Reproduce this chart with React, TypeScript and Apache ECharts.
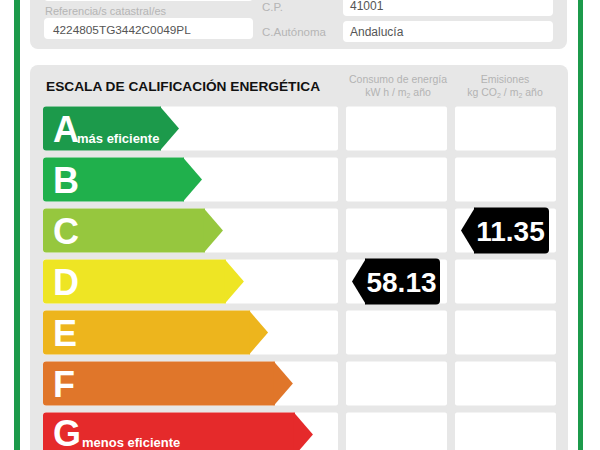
import React, { useEffect, useRef } from "react";
import * as echarts from "echarts";

// ---- data ----
const ratings = ["A", "B", "C", "D", "E", "F", "G"];
const ratingColors = ["#1c9a4b", "#20b04c", "#96c73e", "#eee524", "#edb51d", "#e0762a", "#e52a2b"];
const arrowLengths = [46.1, 53.9, 61.0, 68.1, 76.3, 84.7, 91.5];
const ratingNotes = ["más eficiente", "", "", "", "", "", "menos eficiente"];

const consumptionRating = "D";
const consumptionValue = 58.13;
const emissionsRating = "C";
const emissionsValue = 11.35;

const scaleTitle = "ESCALA DE CALIFICACIÓN ENERGÉTICA";
const consumptionHeader = ["Consumo de energía", "kW h / m{sub|2} año"];
const emissionsHeader = ["Emisiones", "kg CO{sub|2} / m{sub|2} año"];

const cadastralLabel = "Referencia/s catastral/es";
const cadastralRef = "4224805TG3442C0049PL";
const postalLabel = "C.P.";
const postalCode = "41001";
const regionLabel = "C.Autónoma";
const regionName = "Andalucía";

const FONT = "Liberation Sans, Arial, Helvetica, sans-serif";

export default function App() {
  const ref = useRef<HTMLDivElement>(null);

  useEffect(() => {
    if (!ref.current) return;
    const chart = echarts.init(ref.current, null, { renderer: "svg" });

    // row centres: first at 128.5, last at 434.5 (category points, no boundary gap)
    const gridTop = 128.5;
    const gridHeight = 306;

    const rowHeight = (api: any) => api.size([0, 1])[1] - 7;

    const cellRender = (params: any, api: any) => {
      const cat = api.value(1);
      const c = api.coord([0, cat]);
      const h = rowHeight(api);
      return {
        type: "rect",
        shape: { x: params.coordSys.x, y: c[1] - h / 2, width: params.coordSys.width, height: h, r: 2 },
        style: { fill: "#ffffff" },
      };
    };

    const arrowRender = (params: any, api: any) => {
      const i = params.dataIndex;
      const cat = api.value(1);
      const len = api.value(0);
      const start = api.coord([0, cat]);
      const tip = api.coord([len, cat]);
      const h = rowHeight(api);
      const top = start[1] - h / 2;
      const depth = 19;
      const isLast = i === ratings.length - 1;
      const children: any[] = [
        {
          type: "rect",
          shape: { x: start[0], y: top, width: tip[0] - depth - start[0] + 1, height: h, r: [3, 0, 0, 3] },
          style: { fill: ratingColors[i] },
        },
        {
          type: "polygon",
          shape: {
            points: [
              [tip[0] - depth, top],
              [tip[0], start[1]],
              [tip[0] - depth, top + h],
            ],
          },
          style: { fill: ratingColors[i] },
        },
        {
          type: "text",
          style: {
            text: ratings[i],
            x: start[0] + 10,
            y: start[1] + (isLast ? -1 : 1),
            fill: "#ffffff",
            fontSize: 36,
            lineHeight: 28,
            fontWeight: "bold",
            fontFamily: FONT,
            align: "left",
            verticalAlign: "middle",
          },
        },
      ];
      if (ratingNotes[i]) {
        children.push({
          type: "text",
          style: {
            text: ratingNotes[i],
            x: start[0] + (isLast ? 39 : 34),
            y: start[1] + (isLast ? 8 : 10),
            fill: "#ffffff",
            fontSize: 13,
            fontWeight: "bold",
            fontFamily: FONT,
            align: "left",
            verticalAlign: "middle",
          },
        });
      }
      return { type: "group", children };
    };

    const badgeRender = (params: any, api: any) => {
      const cat = api.value(1);
      const val = api.value(2);
      const c = api.coord([0, cat]);
      const left = params.coordSys.x;
      const w = params.coordSys.width;
      const h = rowHeight(api) + 2;
      const top = c[1] - h / 2;
      const tipX = left + 6;
      const bodyX = left + 19;
      const right = left + w - 7;
      return {
        type: "group",
        children: [
          {
            type: "rect",
            shape: { x: bodyX, y: top, width: right - bodyX, height: h, r: [0, 4, 4, 0] },
            style: { fill: "#000000" },
          },
          {
            type: "polygon",
            shape: { points: [[tipX, c[1]], [bodyX + 1, top], [bodyX + 1, top + h]] },
            style: { fill: "#000000" },
          },
          {
            type: "text",
            style: {
              text: val.toFixed(2),
              x: (bodyX + right) / 2 - 1,
              y: c[1] + 1,
              fill: "#ffffff",
              fontSize: 28,
              fontWeight: "bold",
              fontFamily: FONT,
              align: "center",
              verticalAlign: "middle",
            },
          },
        ],
      };
    };

    const rowIdx = ratings.map((_, i) => i);

    const headerText = (lines: string[], cx: number) => [
      {
        type: "text",
        x: cx,
        y: 79,
        style: {
          text: lines[0],
          fill: "#b3b3b3",
          fontSize: 10.5,
          fontFamily: FONT,
          align: "center",
          verticalAlign: "middle",
        },
      },
      {
        type: "text",
        x: cx,
        y: 92,
        style: {
          text: lines[1],
          fill: "#b3b3b3",
          fontSize: 10.5,
          fontFamily: FONT,
          align: "center",
          verticalAlign: "middle",
          rich: {
            sub: { fontSize: 7, fill: "#b3b3b3", padding: [6, 0, 0, 0], fontFamily: FONT },
          },
        },
      },
    ];

    const label = (text: string, x: number, y: number, color: string, size: number) => ({
      type: "text",
      x,
      y,
      style: { text, fill: color, fontSize: size, fontFamily: FONT, align: "left", verticalAlign: "middle" },
    });

    chart.setOption({
      animation: false,
      backgroundColor: "#ffffff",
      graphic: [
        { type: "rect", shape: { x: 14, y: 0, width: 6, height: 450 }, style: { fill: "#1c9a4b" } },
        { type: "rect", shape: { x: 578, y: 0, width: 5, height: 450 }, style: { fill: "#1c9a4b" } },
        { type: "rect", shape: { x: 30, y: -20, width: 537, height: 69, r: 8 }, style: { fill: "#e7e7e7" } },
        { type: "rect", shape: { x: 44, y: -20, width: 209, height: 21, r: 4 }, style: { fill: "#ffffff" } },
        { type: "rect", shape: { x: 44, y: 18, width: 209, height: 21, r: 4 }, style: { fill: "#ffffff" } },
        { type: "rect", shape: { x: 343, y: -20, width: 210, height: 36, r: 4 }, style: { fill: "#ffffff" } },
        { type: "rect", shape: { x: 343, y: 21, width: 210, height: 21, r: 4 }, style: { fill: "#ffffff" } },
        label(cadastralLabel, 45, 11, "#b5b5b5", 11),
        label(cadastralRef, 53, 30, "#555555", 11.8),
        label(postalLabel, 262, 7, "#b5b5b5", 11.5),
        label(postalCode, 350, 6, "#555555", 12),
        label(regionLabel, 262, 32, "#b5b5b5", 11.5),
        label(regionName, 350, 32, "#555555", 12),
        { type: "rect", shape: { x: 30, y: 65, width: 538, height: 420, r: 8 }, style: { fill: "#e7e7e7" } },
        {
          type: "text",
          x: 46,
          y: 86,
          style: {
            text: scaleTitle,
            fill: "#111111",
            fontSize: 13.7,
            fontWeight: "bold",
            fontFamily: FONT,
            align: "left",
            verticalAlign: "middle",
          },
        },
        ...headerText(consumptionHeader, 398),
        ...headerText(emissionsHeader, 505),
      ],
      grid: [
        { left: 43, top: gridTop, width: 295, height: gridHeight },
        { left: 346, top: gridTop, width: 101, height: gridHeight },
        { left: 455, top: gridTop, width: 101, height: gridHeight },
      ],
      xAxis: [
        { type: "value", gridIndex: 0, min: 0, max: 100, show: false },
        { type: "value", gridIndex: 1, min: 0, max: 1, show: false },
        { type: "value", gridIndex: 2, min: 0, max: 1, show: false },
      ],
      yAxis: [0, 1, 2].map((g) => ({
        type: "category",
        gridIndex: g,
        data: ratings,
        inverse: true,
        boundaryGap: false,
        show: false,
      })),
      series: [
        ...[0, 1, 2].map((g) => ({
          type: "custom",
          xAxisIndex: g,
          yAxisIndex: g,
          renderItem: cellRender,
          data: rowIdx.map((i) => [0, i]),
          clip: false,
          z: 1,
          silent: true,
        })),
        {
          type: "custom",
          xAxisIndex: 0,
          yAxisIndex: 0,
          renderItem: arrowRender,
          data: arrowLengths.map((l, i) => [l, i]),
          clip: false,
          z: 3,
        },
        {
          type: "custom",
          xAxisIndex: 1,
          yAxisIndex: 1,
          renderItem: badgeRender,
          data: [[0, ratings.indexOf(consumptionRating), consumptionValue]],
          clip: false,
          z: 3,
        },
        {
          type: "custom",
          xAxisIndex: 2,
          yAxisIndex: 2,
          renderItem: badgeRender,
          data: [[0, ratings.indexOf(emissionsRating), emissionsValue]],
          clip: false,
          z: 3,
        },
      ],
    });

    return () => chart.dispose();
  }, []);

  return (
    <div
      ref={ref}
      style={{ position: "absolute", left: 0, top: 0, width: 600, height: 450, background: "#fff" }}
    />
  );
}
